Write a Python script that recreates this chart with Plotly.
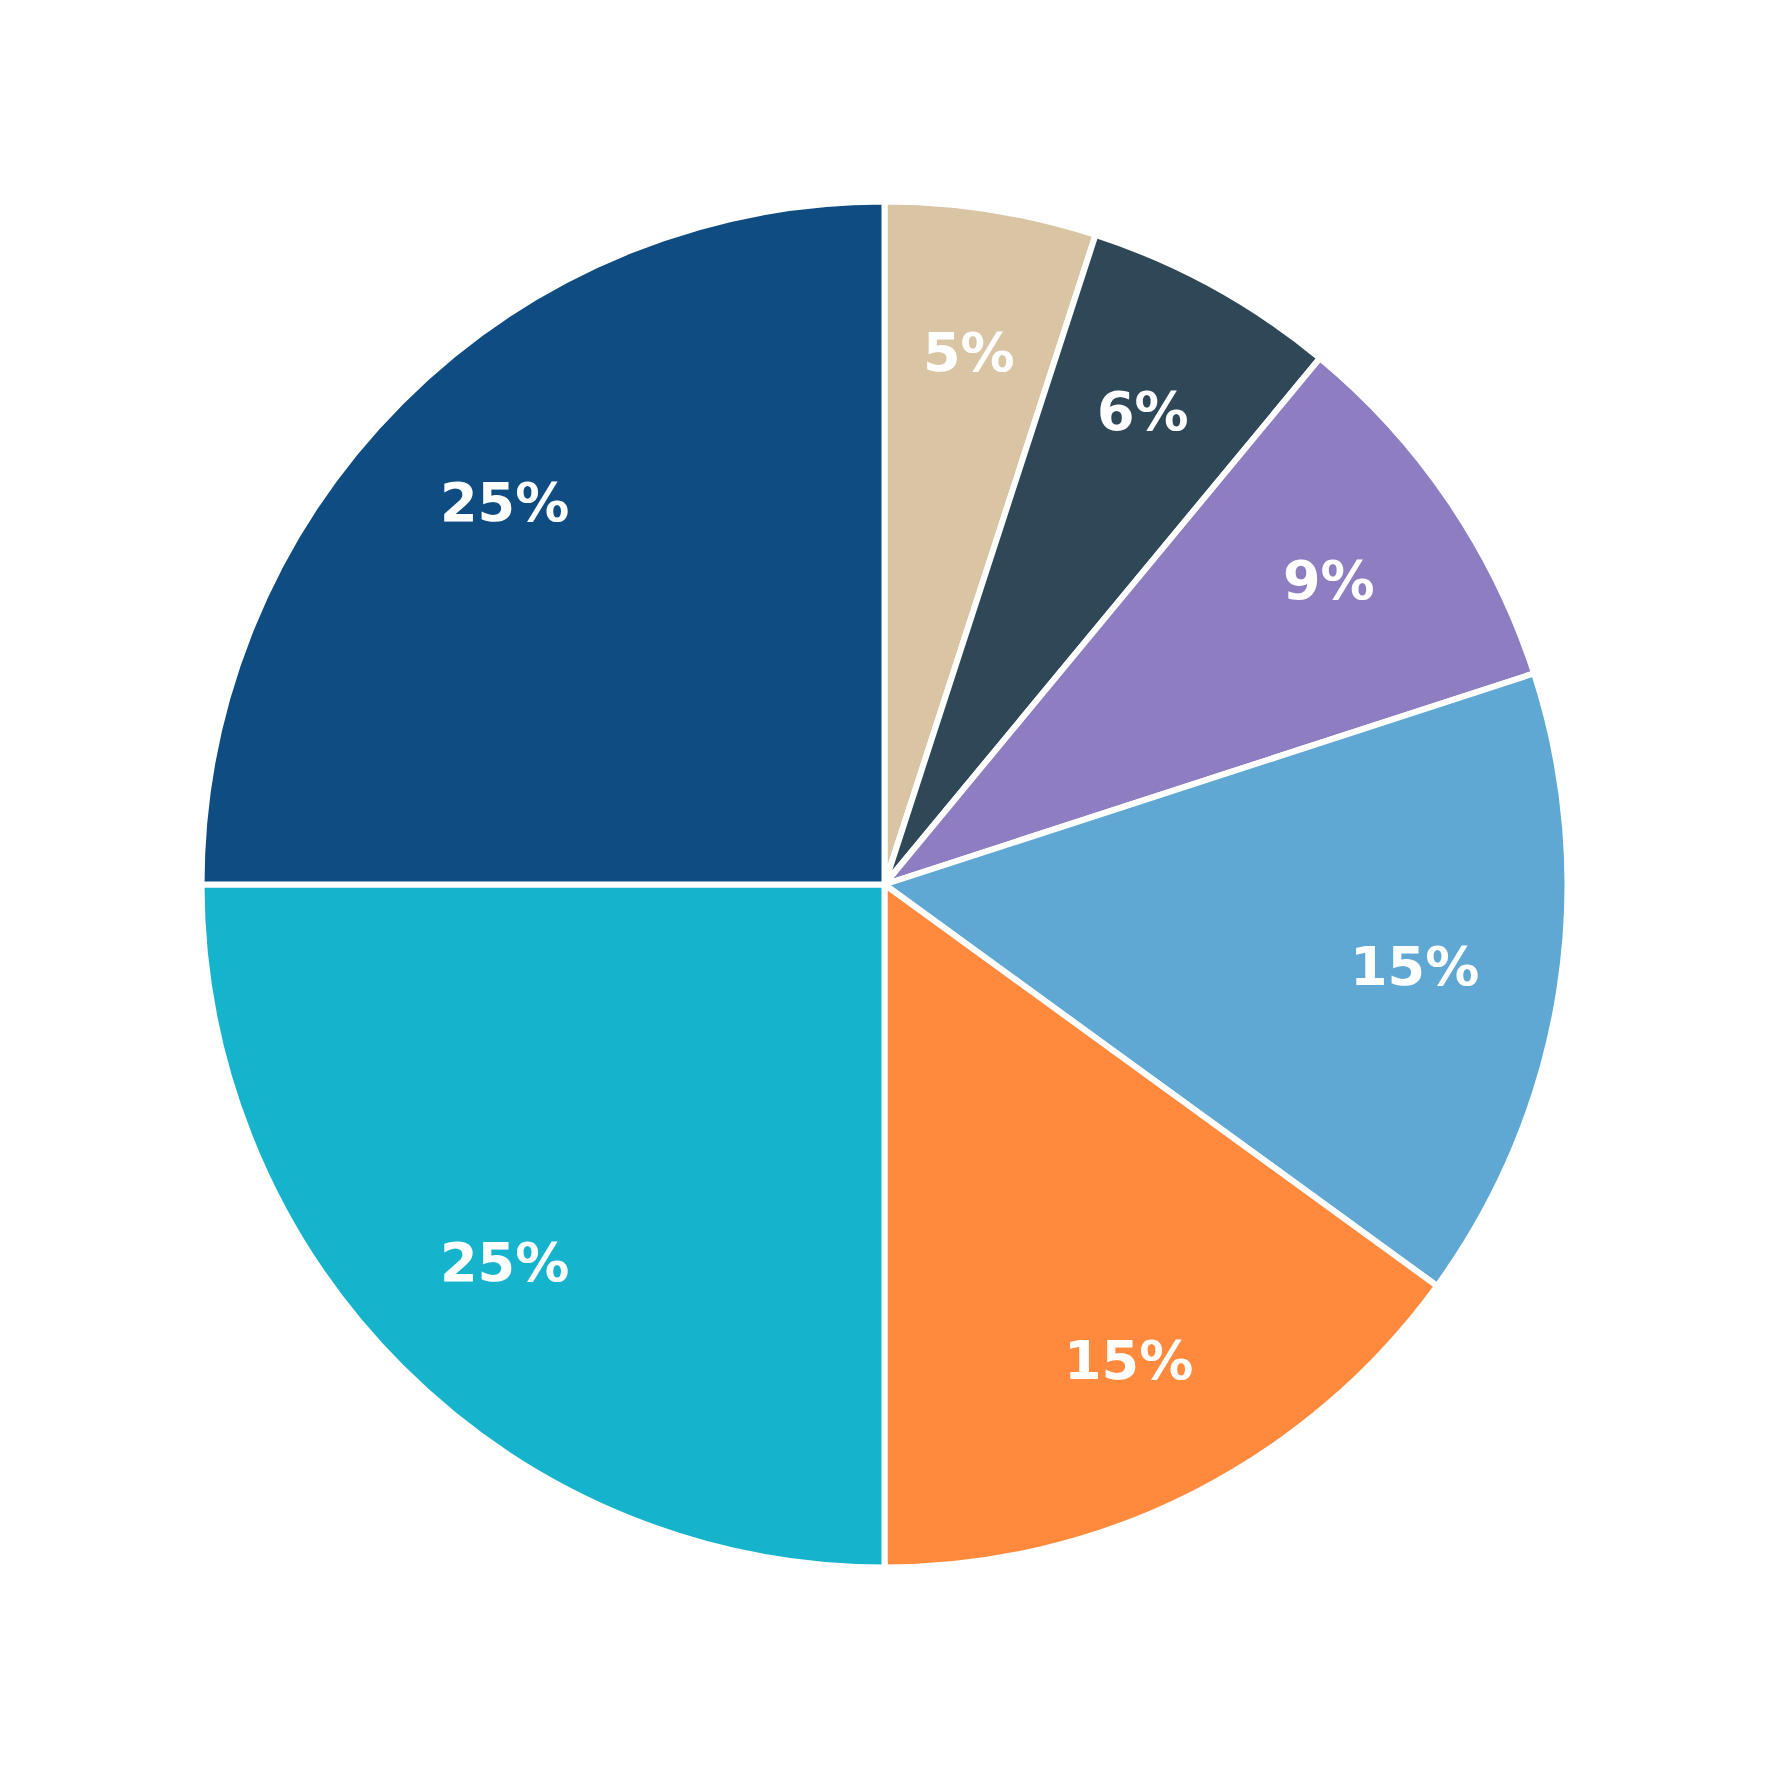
import math
import plotly.graph_objects as go

categories = ["A", "B", "C", "D", "E", "F", "G"]
values = [5, 6, 9, 15, 15, 25, 25]
colors = ["#D9C4A3", "#2F4858", "#8E7EC1", "#5FA8D3", "#FF8A3D", "#15B4CC", "#0F4C81"]

W = 1770
cx, cy, R = 884.5, 884.5, 683
label_r = 537

fig = go.Figure(go.Pie(
    labels=categories,
    values=values,
    marker=dict(colors=colors, line=dict(color="white", width=6)),
    sort=False,
    direction="clockwise",
    rotation=0,
    textinfo="none",
    hoverinfo="label+percent",
    domain=dict(x=[(cx - R) / W, (cx + R) / W], y=[(W - cy - R) / W, (W - cy + R) / W]),
    showlegend=False,
))

total = sum(values)
cum = 0
annotations = []
for v in values:
    mid = (cum + v / 2) / total * 2 * math.pi
    cum += v
    px = cx + label_r * math.sin(mid)
    py = cy - label_r * math.cos(mid) - 2
    annotations.append(dict(
        x=px / W, y=(W - py) / W, xref="paper", yref="paper",
        text=f"<b>{round(v / total * 100)}%</b>", showarrow=False,
        font=dict(family="DejaVu Sans", size=54, color="white"),
        xanchor="center", yanchor="middle",
    ))

fig.update_layout(
    width=W, height=W,
    margin=dict(l=0, r=0, t=0, b=0),
    paper_bgcolor="white",
    plot_bgcolor="white",
    annotations=annotations,
)

fig.write_html("out.html")
